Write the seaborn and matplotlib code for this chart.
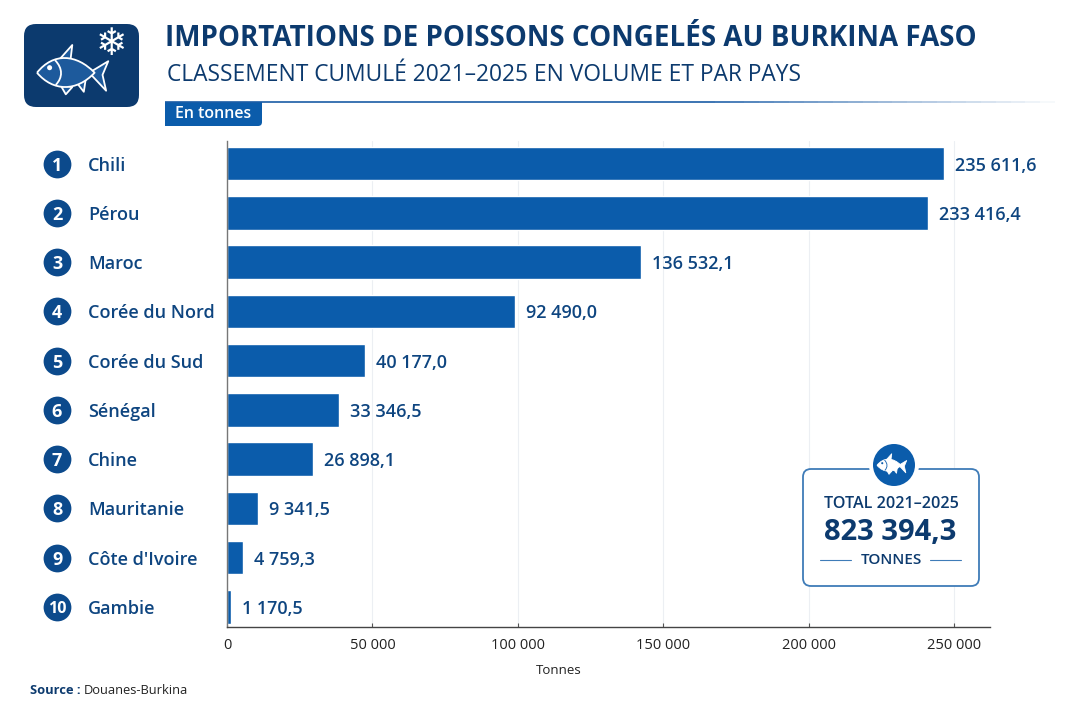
import matplotlib.pyplot as plt
import seaborn as sns
import pandas as pd
from matplotlib.patches import Circle, FancyBboxPatch, PathPatch, Polygon, Rectangle
from matplotlib.path import Path
from matplotlib.transforms import blended_transform_factory

# bar lengths as drawn in the picture (they run longer than the printed figures)
pays = ['Chili', 'Pérou', 'Maroc', 'Corée du Nord', 'Corée du Sud', 'Sénégal', 'Chine',
        'Mauritanie', "Côte d'Ivoire", 'Gambie']
longueurs = [246300, 241000, 142100, 98800, 47300, 38600, 29600, 10500, 5600, 1400]
etiquettes = ['235 611,6', '233 416,4', '136 532,1', '92 490,0', '40 177,0', '33 346,5',
              '26 898,1', '9 341,5', '4 759,3', '1 170,5']
rangs = ['1', '2', '3', '4', '5', '6', '7', '8', '9', '10']
ticks_x = [0, 50000, 100000, 150000, 200000, 250000]
ticks_x_labels = ['0', '50 000', '100 000', '150 000', '200 000', '250 000']

NAVY = '#0c3a6e'
BLUE = '#0b5cab'
TEXT = '#0e4580'
W, H = 1080, 720

sns.set_theme(style='white')
plt.rcParams['font.family'] = ['Open Sans', 'DejaVu Sans']


def draw_fish(ax, cx, cy, s, body, line, lw=1.3):
    # small stylised fish, s = half length in pixels
    def pts(p):
        return [(cx + x * s, cy + y * s) for x, y in p]

    kw = dict(fc=body, ec=line, lw=lw, joinstyle='round')
    ax.add_patch(Polygon(pts([(0.45, 0.02), (0.98, -0.3), (0.82, 0.08), (0.92, 0.52)]), zorder=6, **kw))
    ax.add_patch(Polygon(pts([(-0.42, -0.3), (-0.02, -0.75), (-0.08, -0.25)]), zorder=6, **kw))
    ax.add_patch(Polygon(pts([(-0.35, 0.36), (-0.2, 0.62), (-0.02, 0.42)]), zorder=6, **kw))
    ax.add_patch(Polygon(pts([(0.12, 0.32), (0.3, 0.55), (0.35, 0.22)]), zorder=6, **kw))
    verts = pts([(-1, 0.02), (-0.55, -0.55), (0.1, -0.5), (0.6, 0.02), (0.1, 0.55), (-0.55, 0.55), (-1, 0.02)])
    codes = [Path.MOVETO, Path.CURVE4, Path.CURVE4, Path.CURVE4, Path.CURVE4, Path.CURVE4, Path.CURVE4]
    ax.add_patch(PathPatch(Path(verts, codes), zorder=7, **kw))
    gill = pts([(-0.5, -0.33), (-0.28, -0.1), (-0.28, 0.15), (-0.48, 0.36)])
    ax.add_patch(PathPatch(Path(gill, [Path.MOVETO, Path.CURVE4, Path.CURVE4, Path.CURVE4]),
                           fc='none', ec=line if body != line else '#0b5cab', lw=lw, zorder=8))
    ax.add_patch(Circle((cx - 0.65 * s, cy - 0.12 * s), 0.07 * s,
                        fc=line if body != line else '#0b5cab', ec='none', zorder=8))


def draw_fig():
    fig = plt.figure(figsize=(W / 100, H / 100), dpi=100, facecolor='white')

    # pixel-space layer for the header and the total box
    bg = fig.add_axes([0, 0, 1, 1], zorder=0)
    bg.set_xlim(0, W)
    bg.set_ylim(H, 0)
    bg.axis('off')

    ax = fig.add_axes([227 / W, 1 - 627 / H, 763 / W, 486 / H], zorder=1)
    ax.patch.set_alpha(0)
    df = pd.DataFrame({'pays': pays, 'tonnes': longueurs})
    sns.barplot(data=df, y='pays', x='tonnes', color=BLUE, saturation=1, width=0.68, ax=ax)
    ax.set_xlim(0, 262200)
    ax.set_ylim(9.41, -0.46)
    valeurs = ax.bar_label(ax.containers[0], labels=etiquettes, padding=8, fontsize=13,
                           fontweight='semibold', color=TEXT)
    for t in valeurs:
        t.set_va('center_baseline')

    ax.set_xticks(ticks_x, ticks_x_labels)
    ax.grid(axis='x', color='#eceff3', lw=0.8)
    ax.set_axisbelow(True)
    ax.tick_params(axis='x', direction='in', length=3, width=0.8, color='#555555', pad=8,
                   labelsize=10.5, labelcolor='#222222', bottom=True)
    ax.set_xlabel('Tonnes', fontsize=9.5, color='#222222', labelpad=8, x=0.435)
    ax.set_ylabel('')
    ax.tick_params(axis='y', length=0, pad=100, labelsize=13, labelcolor=TEXT)
    for t in ax.get_yticklabels():
        t.set_ha('left')
        t.set_fontweight('semibold')
    sns.despine(ax=ax, top=True, right=True)
    ax.spines['left'].set_color('#777777')
    ax.spines['left'].set_linewidth(1)
    ax.spines['bottom'].set_color('#444444')
    ax.spines['bottom'].set_linewidth(1)

    # rank badges share the category positions of the bars
    trans = blended_transform_factory(ax.transAxes, ax.transData)
    ax.scatter([-0.2228] * len(rangs), range(len(rangs)), s=400, color='#0c4a8c', transform=trans,
               clip_on=False, linewidths=0, zorder=5)
    for i, r in enumerate(rangs):
        ax.text(-0.2228, i, r, transform=trans, ha='center', va='center_baseline', color='white',
                fontsize=13 if len(r) == 1 else 11.5, fontweight='bold', zorder=6)

    # icon
    bg.add_patch(FancyBboxPatch((36, 36), 91, 59, boxstyle='round,pad=12,rounding_size=12',
                                fc=NAVY, ec='none'))
    draw_fish(bg, 73, 72, 36, '#1d5a9c', 'white')
    bg.text(111, 45, '\u2744', ha='center', va='center', color='white', fontsize=27,
            family='DejaVu Sans')

    # title block
    bg.text(165, 38, 'IMPORTATIONS DE POISSONS CONGELÉS AU BURKINA FASO', ha='left', va='center',
            color=NAVY, fontsize=20, fontweight='bold')
    bg.text(167, 75, 'CLASSEMENT CUMULÉ 2021–2025 EN VOLUME ET PAR PAYS', ha='left', va='center',
            color=NAVY, fontsize=16.4)
    # rule fading out to the right
    bg.plot([165, 700], [101.5, 101.5], color='#1a5ca6', lw=1.2, solid_capstyle='butt')
    n = 24
    for i in range(n):
        x0 = 700 + i * (1055 - 700) / n
        x1 = x0 + (1055 - 700) / n
        bg.plot([x0, x1], [101.5, 101.5], color='#1a5ca6', lw=1.2, alpha=1 - i / n,
                solid_capstyle='butt')
    bg.add_patch(FancyBboxPatch((165, 102), 97, 24, boxstyle='round,pad=0,rounding_size=4',
                                fc=BLUE, ec='none'))
    bg.add_patch(Rectangle((165, 102), 12, 24, fc=BLUE, ec='none'))
    bg.add_patch(Rectangle((165, 102), 97, 10, fc=BLUE, ec='none'))
    bg.text(213.5, 114, 'En tonnes', ha='center', va='center', color='white', fontsize=11.5,
            fontweight='semibold')

    # total box, above the bars layer
    top = fig.add_axes([0, 0, 1, 1], zorder=2)
    top.set_xlim(0, W)
    top.set_ylim(H, 0)
    top.axis('off')
    top.add_patch(FancyBboxPatch((811, 477), 160, 101, boxstyle='round,pad=8,rounding_size=8',
                                 fc='white', ec='#3f7cb8', lw=1.3))
    top.add_patch(Circle((894, 465), 25, fc='white', ec='none', zorder=4))
    top.add_patch(Circle((894, 465), 21, fc=BLUE, ec='none', zorder=5))
    draw_fish(top, 892, 465, 15, 'white', 'white', lw=0.6)
    top.text(891, 504, 'TOTAL 2021–2025', ha='center', va='center', color=NAVY, fontsize=11.6,
             fontweight='semibold')
    top.text(890, 532, '823 394,3', ha='center', va='center', color=NAVY, fontsize=21,
             fontweight='bold')
    top.text(891, 560, 'TONNES', ha='center', va='center', color=NAVY, fontsize=11,
             fontweight='semibold')
    top.plot([820, 851], [559.5, 559.5], color='#3f7cb8', lw=0.8)
    top.plot([930, 961], [559.5, 559.5], color='#3f7cb8', lw=0.8)

    # source
    bg.text(30, 690, 'Source :', ha='left', va='center', color=NAVY, fontsize=9.3, fontweight='bold')
    bg.text(84, 690, 'Douanes-Burkina', ha='left', va='center', color='#222222', fontsize=9.3)

    plt.savefig('out.png', dpi=100)


if __name__ == "__main__":
    draw_fig()
